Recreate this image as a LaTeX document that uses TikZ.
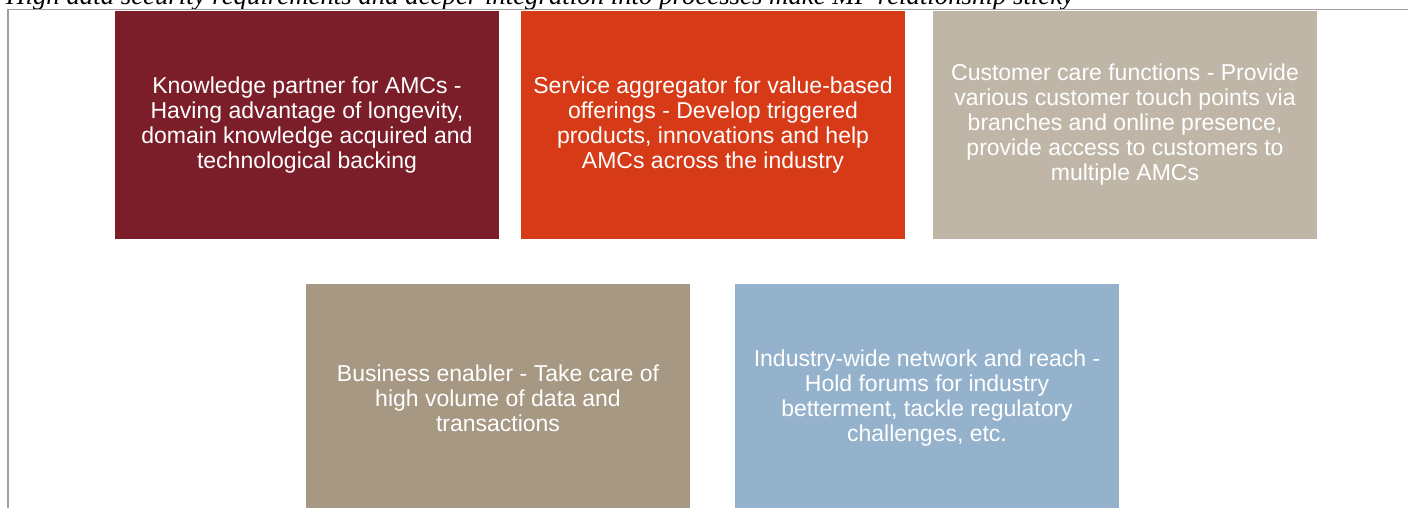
\documentclass[tikz,border=0pt]{standalone}
\usepackage{fontspec}
\setmainfont{Liberation Sans}
\newfontfamily\captionserif{Liberation Serif}
\definecolor{wine}{HTML}{7B1E2A}
\definecolor{rust}{HTML}{D63A16}
\definecolor{sand}{HTML}{BFB6A8}
\definecolor{taupe}{HTML}{A69882}
\definecolor{steel}{HTML}{94B2CC}
\definecolor{framegray}{HTML}{A0A0A0}
\begin{document}
\begin{tikzpicture}[x=1pt,y=-1pt,
  role/.style={rectangle, align=center, text=white, minimum width=384pt, minimum height=228pt, inner sep=0pt, font=\fontsize{23}{25}\selectfont}]
\useasboundingbox (0,0) rectangle (1408,508);
\clip (0,0) rectangle (1408,508);
\node[anchor=base west, inner sep=0pt, font=\captionserif\itshape\fontsize{26.8}{30}\selectfont] (title) at (6,5) {High data security requirements and deeper integration into processes make MF relationship sticky};
\draw[framegray, line width=1.5pt] (8,510) -- (8,9.5) -- (1410,9.5);
\node[role, fill=wine] (partner) at (307,125) {Knowledge partner for AMCs -\\Having advantage of longevity,\\domain knowledge acquired and\\technological backing};
\node[role, fill=rust] (aggregator) at (713,125) {Service aggregator for value-based\\offerings - Develop triggered\\products, innovations and help\\AMCs across the industry};
\node[role, fill=sand] (care) at (1125,125) {Customer care functions - Provide\\various customer touch points via\\branches and online presence,\\provide access to customers to\\multiple AMCs};
\node[role, fill=taupe] (enabler) at (498,398) {Business enabler - Take care of\\high volume of data and\\transactions};
\node[role, fill=steel] (network) at (927,398) {Industry-wide network and reach -\\Hold forums for industry\\betterment, tackle regulatory\\challenges, etc.};
\end{tikzpicture}
\end{document}
